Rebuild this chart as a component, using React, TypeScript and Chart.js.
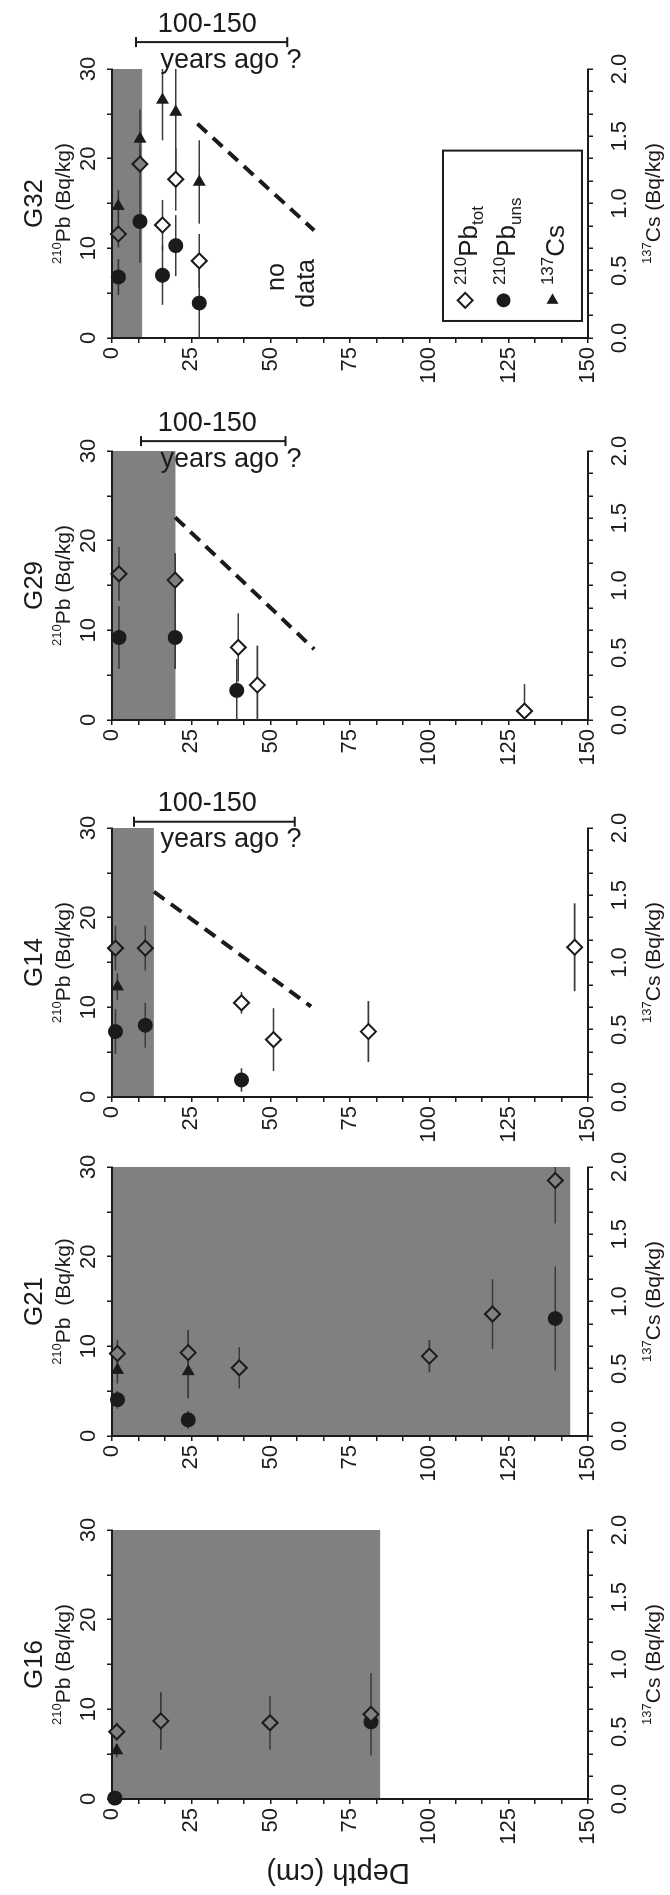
import React, { useEffect, useRef } from 'react';
import { Chart, registerables } from 'chart.js';

Chart.register(...registerables);

// ---------------- data ----------------
const PANEL_NAMES = ['G32', 'G29', 'G14', 'G21', 'G16'];

const DEPTH_TICK_LABELS = [0, 25, 50, 75, 100, 125, 150];
const PB_TICK_LABELS = [0, 10, 20, 30];
const CS_TICK_LABELS = [0, 0.5, 1.0, 1.5, 2.0];

// G32
const G32_TOT_DEPTH = [2.0, 8.8, 15.9, 20.1, 27.5];
const G32_TOT_PB = [11.6, 19.4, 12.6, 17.7, 8.6];
const G32_TOT_ERR = [1.5, 2.0, 2.8, 3.5, 3.0];
const G32_UNS_DEPTH = [2.0, 8.8, 15.9, 20.1, 27.5];
const G32_UNS_PB = [6.8, 13.0, 7.0, 10.3, 3.9];
const G32_UNS_ERR = [2.0, 4.6, 3.3, 3.4, 3.9];
const G32_CS_DEPTH = [2.0, 8.8, 15.9, 20.1, 27.5];
const G32_CS = [0.98, 1.48, 1.77, 1.68, 1.16];
const G32_CS_ERR = [0.12, 0.22, 0.3, 0.45, 0.31];
const G32_SHADE_DEPTH = 9.5;
const G32_DASH_DEPTH = [26.9, 63.7];
const G32_DASH_PB = [23.9, 12.0];
const G32_BRACKET_DEPTH = [7.6, 55.2];
const G32_BRACKET_PB = 33.0;

// G29
const G29_TOT_DEPTH = [2.2, 19.9, 39.8, 45.8, 130.0];
const G29_TOT_PB = [16.3, 15.6, 8.1, 3.9, 1.0];
const G29_TOT_ERR = [3.0, 3.0, 3.8, 4.4, 3.0];
const G29_UNS_DEPTH = [2.2, 19.9, 39.3];
const G29_UNS_PB = [9.2, 9.2, 3.3];
const G29_UNS_ERR = [3.5, 3.5, 3.5];
const G29_CS_DEPTH: number[] = [];
const G29_CS: number[] = [];
const G29_CS_ERR: number[] = [];
const G29_SHADE_DEPTH = 20.0;
const G29_DASH_DEPTH = [19.9, 63.7];
const G29_DASH_PB = [22.6, 7.9];
const G29_BRACKET_DEPTH = [9.1, 54.7];
const G29_BRACKET_PB = 31.1;

// G14
const G14_TOT_DEPTH = [1.1, 10.5, 40.8, 50.9, 80.8, 145.8];
const G14_TOT_PB = [16.6, 16.6, 10.5, 6.4, 7.3, 16.7];
const G14_TOT_ERR = [2.5, 2.5, 1.2, 3.5, 3.4, 4.9];
const G14_UNS_DEPTH = [1.1, 10.5, 40.8];
const G14_UNS_PB = [7.3, 8.0, 1.9];
const G14_UNS_ERR = [2.5, 2.5, 1.3];
const G14_CS_DEPTH = [1.7];
const G14_CS = [0.82];
const G14_CS_ERR = [0.1];
const G14_SHADE_DEPTH = 13.2;
const G14_DASH_DEPTH = [13.2, 62.7];
const G14_DASH_PB = [22.9, 10.1];
const G14_BRACKET_DEPTH = [6.9, 57.6];
const G14_BRACKET_PB = 30.7;

// G21
const G21_TOT_DEPTH = [1.7, 24.0, 40.1, 100.0, 119.9, 139.7];
const G21_TOT_PB = [9.2, 9.3, 7.6, 8.9, 13.6, 28.5];
const G21_TOT_ERR = [1.5, 2.5, 2.3, 1.8, 3.9, 4.8];
const G21_UNS_DEPTH = [1.7, 24.0, 139.7];
const G21_UNS_PB = [4.05, 1.8, 13.1];
const G21_UNS_ERR = [1.0, 1.0, 5.8];
const G21_CS_DEPTH = [1.7, 24.0];
const G21_CS = [0.49, 0.48];
const G21_CS_ERR = [0.1, 0.2];
const G21_SHADE_DEPTH = 144.4;

// G16
const G16_TOT_DEPTH = [1.5, 15.4, 49.8, 81.6];
const G16_TOT_PB = [7.5, 8.7, 8.5, 9.45];
const G16_TOT_ERR = [1.0, 3.2, 3.0, 4.6];
const G16_UNS_DEPTH = [0.9, 81.6];
const G16_UNS_PB = [0.1, 8.6];
const G16_UNS_ERR = [0.0, 0.0];
const G16_CS_DEPTH = [1.5];
const G16_CS = [0.36];
const G16_CS_ERR = [0.05];
const G16_SHADE_DEPTH = 84.5;

// ---------------- styling / layout ----------------
const FONT = "'Liberation Sans', Arial, Helvetica, sans-serif";
const INK = '#1b1b1b';
const SHADE = '#808080';
const PB_MAX = 30;
const CS_MAX = 2;
const DEPTH_MAX = 150;
const DEPTH_MINOR = 25 / 3;
const PB_MINOR = 5;
const CS_MINOR = 0.5 / 3;

const CANVAS_H = 670; // original (unrotated) height = page width
const SPACE_ABOVE = 69; // page px above each plot (annotation room)
const PLOT_H = 269; // page px height of each plot
const AREA_TOP = 112; // depth 0 on the page x axis
const AREA_BOTTOM = 588; // depth 150 on the page x axis

type Series = { d: number[]; v: number[]; e: number[] };
type PanelDef = {
  name: string;
  plotTop: number;
  below: number;
  shade: number;
  tot: Series;
  uns: Series;
  cs: Series;
  dash?: { d: number[]; v: number[] };
  bracket?: { d: number[]; v: number };
  pbTitle: string;
  csTitle: boolean;
  depthTitle: boolean;
  legend: boolean;
  noData: boolean;
};

const PANELS: PanelDef[] = [
  {
    name: PANEL_NAMES[0], plotTop: 69, below: 60, shade: G32_SHADE_DEPTH,
    tot: { d: G32_TOT_DEPTH, v: G32_TOT_PB, e: G32_TOT_ERR },
    uns: { d: G32_UNS_DEPTH, v: G32_UNS_PB, e: G32_UNS_ERR },
    cs: { d: G32_CS_DEPTH, v: G32_CS, e: G32_CS_ERR },
    dash: { d: G32_DASH_DEPTH, v: G32_DASH_PB },
    bracket: { d: G32_BRACKET_DEPTH, v: G32_BRACKET_PB },
    pbTitle: 'Pb (Bq/kg)', csTitle: true, depthTitle: false, legend: true, noData: true,
  },
  {
    name: PANEL_NAMES[1], plotTop: 451, below: 60, shade: G29_SHADE_DEPTH,
    tot: { d: G29_TOT_DEPTH, v: G29_TOT_PB, e: G29_TOT_ERR },
    uns: { d: G29_UNS_DEPTH, v: G29_UNS_PB, e: G29_UNS_ERR },
    cs: { d: G29_CS_DEPTH, v: G29_CS, e: G29_CS_ERR },
    dash: { d: G29_DASH_DEPTH, v: G29_DASH_PB },
    bracket: { d: G29_BRACKET_DEPTH, v: G29_BRACKET_PB },
    pbTitle: 'Pb (Bq/kg)', csTitle: false, depthTitle: false, legend: false, noData: false,
  },
  {
    name: PANEL_NAMES[2], plotTop: 828, below: 60, shade: G14_SHADE_DEPTH,
    tot: { d: G14_TOT_DEPTH, v: G14_TOT_PB, e: G14_TOT_ERR },
    uns: { d: G14_UNS_DEPTH, v: G14_UNS_PB, e: G14_UNS_ERR },
    cs: { d: G14_CS_DEPTH, v: G14_CS, e: G14_CS_ERR },
    dash: { d: G14_DASH_DEPTH, v: G14_DASH_PB },
    bracket: { d: G14_BRACKET_DEPTH, v: G14_BRACKET_PB },
    pbTitle: 'Pb (Bq/kg)', csTitle: true, depthTitle: false, legend: false, noData: false,
  },
  {
    name: PANEL_NAMES[3], plotTop: 1167, below: 60, shade: G21_SHADE_DEPTH,
    tot: { d: G21_TOT_DEPTH, v: G21_TOT_PB, e: G21_TOT_ERR },
    uns: { d: G21_UNS_DEPTH, v: G21_UNS_PB, e: G21_UNS_ERR },
    cs: { d: G21_CS_DEPTH, v: G21_CS, e: G21_CS_ERR },
    pbTitle: 'Pb  (Bq/kg)', csTitle: true, depthTitle: false, legend: false, noData: false,
  },
  {
    name: PANEL_NAMES[4], plotTop: 1530, below: 1895 - 1530 - 269, shade: G16_SHADE_DEPTH,
    tot: { d: G16_TOT_DEPTH, v: G16_TOT_PB, e: G16_TOT_ERR },
    uns: { d: G16_UNS_DEPTH, v: G16_UNS_PB, e: G16_UNS_ERR },
    cs: { d: G16_CS_DEPTH, v: G16_CS, e: G16_CS_ERR },
    pbTitle: 'Pb (Bq/kg)', csTitle: true, depthTitle: true, legend: false, noData: false,
  },
];

type Seg = { t: string; k?: 'sup' | 'sub' };

function drawRich(ctx: CanvasRenderingContext2D, segs: Seg[], x: number, y: number, size: number, align: 'center' | 'left') {
  const small = Math.round(size * 0.64);
  const fontOf = (s: Seg) => `${s.k ? small : size}px ${FONT}`;
  let total = 0;
  for (const s of segs) {
    ctx.font = fontOf(s);
    total += ctx.measureText(s.t).width;
  }
  let cx = align === 'center' ? x - total / 2 : x;
  ctx.textAlign = 'left';
  ctx.textBaseline = 'alphabetic';
  const base = y + size * 0.36;
  for (const s of segs) {
    ctx.font = fontOf(s);
    const dy = s.k === 'sup' ? -size * 0.4 : s.k === 'sub' ? size * 0.24 : 0;
    ctx.fillText(s.t, cx, base + dy);
    cx += ctx.measureText(s.t).width;
  }
}

function markerPath(ctx: CanvasRenderingContext2D, kind: string, x: number, y: number, r: number) {
  ctx.beginPath();
  if (kind === 'diamond') {
    ctx.moveTo(x - r, y);
    ctx.lineTo(x, y - r);
    ctx.lineTo(x + r, y);
    ctx.lineTo(x, y + r);
    ctx.closePath();
  } else if (kind === 'circle') {
    ctx.arc(x, y, r, 0, Math.PI * 2);
  } else {
    ctx.moveTo(x + r, y);
    ctx.lineTo(x - r / 2, y - r * 0.866);
    ctx.lineTo(x - r / 2, y + r * 0.866);
    ctx.closePath();
  }
}

function tickList(max: number, step: number) {
  const n = Math.round(max / step);
  const out: { value: number }[] = [];
  for (let k = 0; k <= n; k++) out.push({ value: k * step });
  return out;
}

function labelFor(labels: number[], digits: number) {
  return (value: number) => {
    const hit = labels.find((l) => Math.abs(l - value) < 1e-6);
    return hit === undefined ? '' : hit.toFixed(digits);
  };
}

function makeOverlay(p: PanelDef) {
  return {
    id: 'overlay',
    beforeDraw(chart: any) {
      const { ctx } = chart;
      const xs = chart.scales.x;
      const ys = chart.scales.y;
      const x0 = xs.getPixelForValue(0);
      const x1 = xs.getPixelForValue(PB_MAX);
      const y0 = ys.getPixelForValue(0);
      const y1 = ys.getPixelForValue(p.shade);
      ctx.save();
      ctx.fillStyle = SHADE;
      ctx.fillRect(x0, y0, x1 - x0, y1 - y0);
      ctx.restore();
    },
    beforeDatasetsDraw(chart: any) {
      const { ctx } = chart;
      const ys = chart.scales.y;
      ctx.save();
      ctx.strokeStyle = '#3a3a3a';
      ctx.lineWidth = 1.6;
      const bars = (s: Series, sc: any, max: number) => {
        s.d.forEach((d, i) => {
          if (!s.e[i]) return;
          const a = sc.getPixelForValue(Math.max(0, s.v[i] - s.e[i]));
          const b = sc.getPixelForValue(Math.min(max, s.v[i] + s.e[i]));
          const y = ys.getPixelForValue(d);
          ctx.beginPath();
          ctx.moveTo(a, y);
          ctx.lineTo(b, y);
          ctx.stroke();
        });
      };
      bars(p.tot, chart.scales.x, PB_MAX);
      bars(p.uns, chart.scales.x, PB_MAX);
      bars(p.cs, chart.scales.x2, CS_MAX);
      ctx.restore();
    },
    afterDraw(chart: any) {
      const { ctx, chartArea: ca } = chart;
      const xs = chart.scales.x;
      const ys = chart.scales.y;
      const cx = (ca.left + ca.right) / 2;
      ctx.save();
      ctx.fillStyle = INK;
      ctx.strokeStyle = INK;

      // panel name
      ctx.font = `26px ${FONT}`;
      ctx.textAlign = 'center';
      ctx.textBaseline = 'middle';
      ctx.fillText(p.name, cx, 35);

      // axis titles
      drawRich(ctx, [{ t: '210', k: 'sup' }, { t: p.pbTitle }], cx, 62, 21, 'center');
      if (p.csTitle) drawRich(ctx, [{ t: '137', k: 'sup' }, { t: 'Cs (Bq/kg)' }], cx, 652, 21, 'center');

      if (p.depthTitle) {
        ctx.save();
        ctx.translate(23, (ca.top + ca.bottom) / 2 - 12);
        ctx.rotate(-Math.PI / 2);
        ctx.font = `29px ${FONT}`;
        ctx.textAlign = 'center';
        ctx.textBaseline = 'middle';
        ctx.fillText('Depth (cm)', 0, 0);
        ctx.restore();
      }

      // age bracket (reads horizontally on the page)
      if (p.bracket) {
        const bx = xs.getPixelForValue(p.bracket.v);
        const ya = ys.getPixelForValue(p.bracket.d[0]);
        const yb = ys.getPixelForValue(p.bracket.d[1]);
        ctx.lineWidth = 2;
        ctx.beginPath();
        ctx.moveTo(bx, ya);
        ctx.lineTo(bx, yb);
        ctx.moveTo(bx - 5, ya);
        ctx.lineTo(bx + 5, ya);
        ctx.moveTo(bx - 5, yb);
        ctx.lineTo(bx + 5, yb);
        ctx.stroke();
        const put = (txt: string, dx: number, depth: number) => {
          ctx.save();
          ctx.translate(bx + dx, ys.getPixelForValue(depth));
          ctx.rotate(Math.PI / 2);
          ctx.font = `27px ${FONT}`;
          ctx.textAlign = 'center';
          ctx.textBaseline = 'middle';
          ctx.fillText(txt, 0, 0);
          ctx.restore();
        };
        put('100-150', 18, 30);
        put('years ago ?', -18, 37.5);
      }

      if (p.noData) {
        ctx.font = `25px ${FONT}`;
        ctx.textAlign = 'center';
        ctx.textBaseline = 'middle';
        ctx.fillText('no', xs.getPixelForValue(6.8), ys.getPixelForValue(52));
        ctx.fillText('data', xs.getPixelForValue(6.1), ys.getPixelForValue(61.5));
      }

      if (p.legend) {
        const lx0 = xs.getPixelForValue(1.9);
        const lx1 = xs.getPixelForValue(20.9);
        const ly0 = ys.getPixelForValue(104.3);
        const ly1 = ys.getPixelForValue(148.1);
        ctx.lineWidth = 2;
        ctx.strokeRect(lx0, ly0, lx1 - lx0, ly1 - ly0);
        const mx = xs.getPixelForValue(4.2);
        const tx = xs.getPixelForValue(5.9);
        const rows: { kind: string; depth: number; segs: Seg[] }[] = [
          { kind: 'diamond', depth: 111.3, segs: [{ t: '210', k: 'sup' }, { t: 'Pb' }, { t: 'tot', k: 'sub' }] },
          { kind: 'circle', depth: 123.4, segs: [{ t: '210', k: 'sup' }, { t: 'Pb' }, { t: 'uns', k: 'sub' }] },
          { kind: 'triangle', depth: 138.8, segs: [{ t: '137', k: 'sup' }, { t: 'Cs' }] },
        ];
        rows.forEach((r) => {
          const y = ys.getPixelForValue(r.depth);
          markerPath(ctx, r.kind, mx, y, r.kind === 'diamond' ? 7.5 : 7);
          if (r.kind === 'diamond') {
            ctx.fillStyle = '#fff';
            ctx.fill();
            ctx.lineWidth = 2;
            ctx.stroke();
          } else {
            ctx.fillStyle = INK;
            ctx.fill();
          }
          ctx.fillStyle = INK;
          drawRich(ctx, r.segs, tx, y + 2, 26, 'left');
        });
      }
      ctx.restore();
    },
  };
}

function axisCommon() {
  return {
    type: 'linear' as const,
    grid: { drawOnChartArea: false, drawTicks: true, tickLength: 5, color: INK, lineWidth: 1.5 },
    border: { display: true, color: INK, width: 2 },
  };
}

function Panel({ p }: { p: PanelDef }) {
  const ref = useRef<HTMLCanvasElement | null>(null);
  const W = SPACE_ABOVE + PLOT_H + p.below; // unrotated canvas width

  useEffect(() => {
    if (!ref.current) return;
    const pts = (s: Series) => s.d.map((d, i) => ({ x: s.v[i], y: d }));
    const datasets: any[] = [
      {
        label: 'tot',
        data: pts(p.tot),
        xAxisID: 'x',
        yAxisID: 'y',
        pointStyle: 'rectRot',
        pointRadius: 7.5,
        pointBorderWidth: 2,
        pointBorderColor: INK,
        pointBackgroundColor: (c: any) => (c.raw && c.raw.y <= p.shade ? SHADE : '#ffffff'),
        showLine: false,
        clip: false,
      },
      {
        label: 'uns',
        data: pts(p.uns),
        xAxisID: 'x',
        yAxisID: 'y',
        pointStyle: 'circle',
        pointRadius: 7.5,
        pointBorderWidth: 0,
        pointBackgroundColor: INK,
        showLine: false,
        clip: false,
      },
      {
        label: 'cs',
        data: pts(p.cs),
        xAxisID: 'x2',
        yAxisID: 'y',
        pointStyle: 'triangle',
        pointRotation: 90,
        pointRadius: 7.5,
        pointBorderWidth: 0,
        pointBackgroundColor: INK,
        showLine: false,
        clip: false,
      },
    ];
    if (p.dash) {
      datasets.push({
        label: 'dash',
        data: p.dash.d.map((d, i) => ({ x: p.dash!.v[i], y: d })),
        xAxisID: 'x',
        yAxisID: 'y',
        showLine: true,
        borderColor: INK,
        borderWidth: 4,
        borderDash: [13, 8],
        pointRadius: 0,
        clip: false,
      });
    }
    const tickFont = { family: FONT, size: 22 };
    const chart = new Chart(ref.current, {
      type: 'scatter',
      data: { datasets },
      plugins: [makeOverlay(p)],
      options: {
        animation: false,
        responsive: false,
        maintainAspectRatio: false,
        devicePixelRatio: 1,
        events: [],
        layout: { padding: { left: 0, right: SPACE_ABOVE, top: 0, bottom: 0 } },
        plugins: { legend: { display: false }, title: { display: false }, tooltip: { enabled: false } },
        scales: {
          x: {
            ...axisCommon(),
            position: 'top',
            min: 0,
            max: PB_MAX,
            afterBuildTicks: (s: any) => { s.ticks = tickList(PB_MAX, PB_MINOR); },
            afterFit: (s: any) => { s.height = AREA_TOP; },
            ticks: { font: tickFont, color: INK, padding: 5, maxRotation: 0, minRotation: 0, autoSkip: false, callback: labelFor(PB_TICK_LABELS, 0) },
          },
          x2: {
            ...axisCommon(),
            position: 'bottom',
            min: 0,
            max: CS_MAX,
            afterBuildTicks: (s: any) => { s.ticks = tickList(CS_MAX, CS_MINOR); },
            afterFit: (s: any) => { s.height = CANVAS_H - AREA_BOTTOM; },
            ticks: { font: tickFont, color: INK, padding: 14, maxRotation: 0, minRotation: 0, autoSkip: false, callback: labelFor(CS_TICK_LABELS, 1) },
          },
          y: {
            ...axisCommon(),
            position: 'left',
            reverse: true,
            min: 0,
            max: DEPTH_MAX,
            afterBuildTicks: (s: any) => { s.ticks = tickList(DEPTH_MAX, DEPTH_MINOR); },
            afterFit: (s: any) => { s.width = p.below; },
            ticks: { font: tickFont, color: INK, padding: 4, autoSkip: false, callback: labelFor(DEPTH_TICK_LABELS, 0) },
          },
        },
      } as any,
    });
    return () => chart.destroy();
  }, []);

  return (
    <div style={{ position: 'absolute', left: 0, top: p.plotTop - SPACE_ABOVE, width: CANVAS_H, height: W }}>
      <div
        style={{
          position: 'absolute',
          left: 0,
          top: 0,
          width: W,
          height: CANVAS_H,
          transformOrigin: '0 0',
          transform: `translateY(${W}px) rotate(-90deg)`,
        }}
      >
        <canvas ref={ref} width={W} height={CANVAS_H} style={{ display: 'block', width: W, height: CANVAS_H }} />
      </div>
    </div>
  );
}

export default function App() {
  return (
    <div style={{ position: 'absolute', left: 0, top: 0, width: 670, height: 1895, background: '#fff', overflow: 'hidden' }}>
      {PANELS.map((p) => (
        <Panel key={p.name} p={p} />
      ))}
    </div>
  );
}
